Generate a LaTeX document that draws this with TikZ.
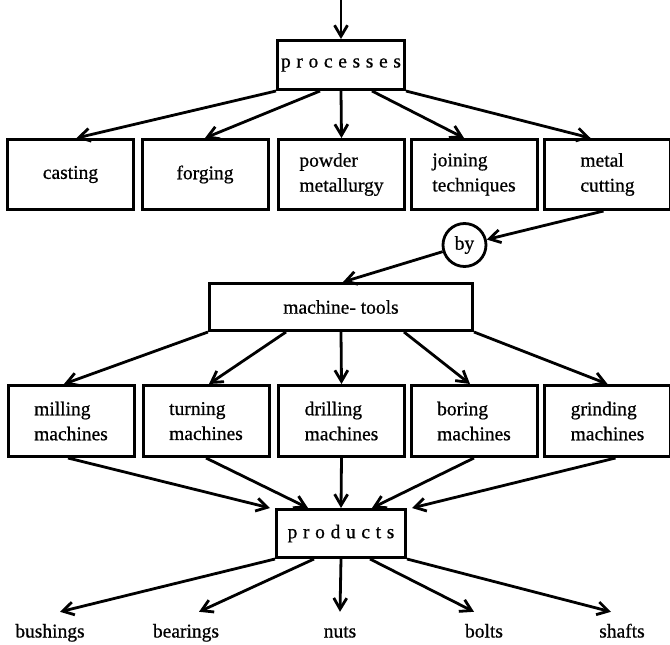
\documentclass[tikz,border=0pt]{standalone}
\usepackage{fontspec}
\setmainfont{Liberation Serif}[FakeBold=0.7]
\newfontfamily\spread[LetterSpace=29,FakeBold=0.7]{Liberation Serif}
\usetikzlibrary{arrows.meta}

\begin{document}
\begin{tikzpicture}[x=1pt, y=-1pt, >={Straight Barb[length=11pt,width=13pt]},
  every node/.style={font=\fontsize{19.5pt}{25pt}\selectfont},
  box/.style={draw, line width=3pt, minimum width=126pt, align=left, inner sep=2pt},
  hub/.style={draw, line width=3pt, inner sep=2pt},
  lbl/.style={inner sep=0pt, text height=13pt, text depth=4pt},
  arr/.style={->, line width=2.8pt}]
\useasboundingbox (0,0) rectangle (670,645);

% top level
\coordinate (in) at (341,0);
\node[hub, minimum width=127pt, minimum height=49pt] (proc) at (341,65) {\spread processes};

% processes row
\node[box, minimum height=70pt] (cast) at (70.5,174.5) {casting};
\node[box, minimum height=70pt] (forg) at (205,174.5) {forging};
\node[box, minimum height=70pt] (powd) at (341.5,174.5) {powder\\metallurgy};
\node[box, minimum height=70pt] (join) at (474,174.5) {joining\\techniques};
\node[box, minimum height=70pt] (cutt) at (607.5,174.5) {metal\\cutting};

\node[draw, circle, line width=2.8pt, minimum size=43pt, inner sep=0pt] (by) at (464.5,245) {by};
\node[hub, minimum width=263pt, minimum height=47pt] (mtool) at (341,307) {machine- tools};

% machines row, text sits a little low in the boxes
\node[box, minimum height=71pt, text depth=-9pt] (mill) at (71,421) {milling\\machines};
\node[box, minimum height=71pt, text depth=-9pt] (turn) at (206,421) {turning\\machines};
\node[box, minimum height=71pt, text depth=-9pt] (dril) at (341.5,421) {drilling\\machines};
\node[box, minimum height=71pt, text depth=-9pt] (bore) at (474,421) {boring\\machines};
\node[box, minimum height=71pt, text depth=-9pt] (grin) at (607.5,421) {grinding\\machines};

\node[hub, minimum width=129pt, minimum height=48pt] (prod) at (341,533.5) {\spread products};

% end items
\node[lbl] (bush) at (50,633) {bushings};
\node[lbl] (bear) at (186,633) {bearings};
\node[lbl] (nuts) at (340,633) {nuts};
\node[lbl] (bolt) at (484,633) {bolts};
\node[lbl] (shaf) at (622,633) {shafts};

% arrows
\draw[arr] (in) -- (proc.north);
\draw[arr] (proc.south west) -- ([xshift=6pt]cast.north);
\draw[arr] ([xshift=-21pt]proc.south) -- (forg.north);
\draw[arr] (proc.south) -- (powd.north);
\draw[arr] ([xshift=31pt]proc.south) -- ([xshift=-10pt]join.north);
\draw[arr] (proc.south east) -- ([xshift=-17pt]cutt.north);

\draw[arr] ([xshift=-4pt]cutt.south) -- (by);
\draw[arr] (by) -- ([xshift=2pt]mtool.north);

\draw[arr] (mtool.south west) -- ([xshift=-7pt]mill.north);
\draw[arr] ([xshift=-55pt]mtool.south) -- ([xshift=3pt]turn.north);
\draw[arr] (mtool.south) -- (dril.north);
\draw[arr] ([xshift=63pt]mtool.south) -- ([xshift=-4pt]bore.north);
\draw[arr] (mtool.south east) -- (grin.north);

\draw[arr] ([xshift=-3pt]mill.south) -- ([xshift=-5pt]prod.north west);
\draw[arr] (turn.south) -- ([xshift=-33pt]prod.north);
\draw[arr] (dril.south) -- (prod.north);
\draw[arr] (bore.south) -- ([xshift=31pt]prod.north);
\draw[arr] ([xshift=8pt]grin.south) -- ([xshift=5pt]prod.north east);

\draw[arr] (prod.south west) -- ([xshift=10pt,yshift=12.5pt]bush.north);
\draw[arr] ([xshift=-27pt]prod.south) -- ([xshift=13pt,yshift=12.5pt]bear.north);
\draw[arr] (prod.south) -- ([yshift=12.5pt]nuts.north);
\draw[arr] ([xshift=29pt]prod.south) -- ([xshift=-10pt,yshift=12.5pt]bolt.north);
\draw[arr] (prod.south east) -- ([xshift=-11pt,yshift=12.5pt]shaf.north);
\end{tikzpicture}
\end{document}
